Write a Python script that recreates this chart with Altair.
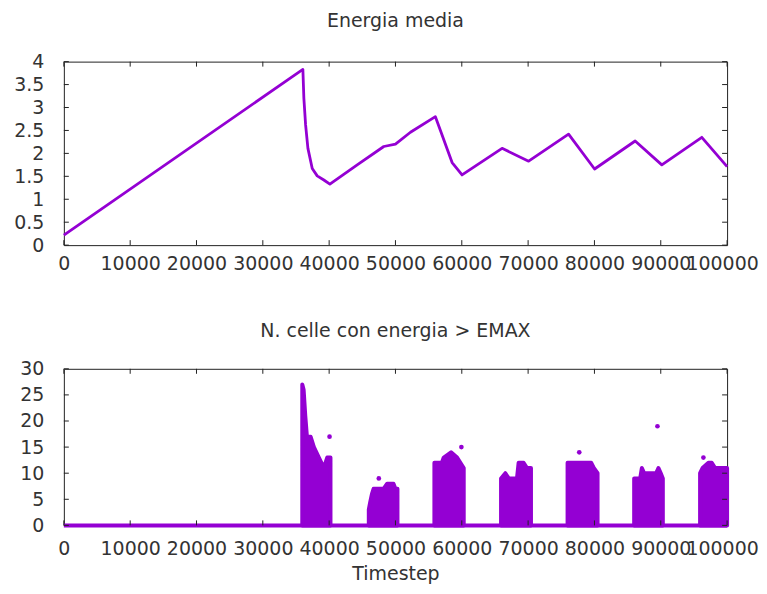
import altair as alt
import pandas as pd

# ---- Top panel: mean energy ----
energy_t = [0, 36040, 36190, 36450, 36800, 37450, 38200, 39200, 40110, 44230, 48240,
            50000, 52260, 56020, 56780, 57780, 58540, 60040, 66070, 70080, 76100,
            80020, 86140, 90160, 96190, 100000]
energy_v = [0.22, 3.83, 3.20, 2.62, 2.11, 1.67, 1.51, 1.42, 1.33, 1.75, 2.15,
            2.20, 2.46, 2.80, 2.50, 2.10, 1.80, 1.53, 2.11, 1.83, 2.42,
            1.66, 2.27, 1.75, 2.35, 1.71]

# ---- Bottom panel: dense clusters (upper envelope of the point cloud) ----
c1_t = [35950, 36150, 36400, 36650, 37200, 37700, 38450, 39200, 39710, 40200]
c1_hi = [27, 26, 21, 17, 17, 15, 13, 11, 13, 13]
c2_t = [45980, 46200, 46450, 46700, 47740, 48200, 48750, 49700, 50000, 50300]
c2_hi = [3, 4.5, 6, 7, 7, 7, 8, 8, 7, 7]
c3_t = [55870, 57000, 57280, 58380, 59290, 59790, 60290]
c3_hi = [12, 12, 13, 14, 13, 12, 11]
c4_t = [65920, 66570, 67070, 68320, 68570, 69320, 69830, 70430]
c4_hi = [9, 10, 9, 9, 12, 12, 11, 11]
c5_t = [75950, 76500, 77500, 78500, 79500, 79900, 80470]
c5_hi = [12, 12, 12, 12, 12, 11, 10]
c6_t = [85990, 86900, 87150, 87500, 89300, 89650, 90000, 90310]
c6_hi = [9, 9, 11, 10, 10, 11, 10, 9]
c7_t = [95930, 96300, 97190, 97690, 98190, 100000]
c7_hi = [10, 11, 12, 12, 11, 11]

outlier_t = [40060, 47490, 59940, 77710, 89500, 96430]
outlier_v = [17, 9, 15, 14, 19, 13]

zero_t = [0, 100000]
zero_v = [0, 0]

x_ticks = [0, 10000, 20000, 30000, 40000, 50000, 60000, 70000, 80000, 90000, 100000]
y1_ticks = [0, 0.5, 1, 1.5, 2, 2.5, 3, 3.5, 4]
y2_ticks = [0, 5, 10, 15, 20, 25, 30]

PURPLE = "#9400d3"
FONT = "DejaVu Sans"
FS = 19
W, H1, H2 = 665, 184, 157
TL = 5

energy_df = pd.DataFrame({"t": energy_t, "v": energy_v})
rows = []
for cid, (ts, hs) in enumerate([(c1_t, c1_hi), (c2_t, c2_hi), (c3_t, c3_hi), (c4_t, c4_hi),
                                (c5_t, c5_hi), (c6_t, c6_hi), (c7_t, c7_hi)]):
    for t, h in zip(ts, hs):
        rows.append({"t": t, "v": h, "lo": 0, "c": cid})
cluster_df = pd.DataFrame(rows)
out_df = pd.DataFrame({"t": outlier_t, "v": outlier_v})
zero_df = pd.DataFrame({"t": zero_t, "v": zero_v})
xt_df = pd.DataFrame({"t": x_ticks})

xscale = alt.Scale(domain=[0, 100000], nice=False, zero=False)
last_label_shift = {"condition": {"test": "datum.value == 100000", "value": -5}, "value": 0}


def xaxis(title=None, label_pad=9):
    kw = dict(values=x_ticks, labelExpr="'' + datum.value", ticks=False, domain=False,
              grid=False, labelOverlap=False, labelFlush=False, labelBound=False,
              labelPadding=label_pad, labelFontSize=FS, labelFont=FONT, labelColor="#333",
              labelOffset=last_label_shift)
    if title:
        return alt.Axis(title=title, titleFontSize=FS, titleFont=FONT, titleFontWeight="normal",
                        titleColor="#333", titlePadding=6, **kw)
    return alt.Axis(title=None, **kw)


def yaxis(vals):
    return alt.Axis(values=vals, labelExpr="'' + datum.value", ticks=False, domain=False,
                    grid=False, labelOverlap=False, labelFlush=False, labelBound=False,
                    labelPadding=20, labelFontSize=FS, labelFont=FONT, labelColor="#333",
                    title=None, minExtent=55)


def make_panel(marks_fn, yvals, ydomain, H, xtitle, label_pad):
    yscale = alt.Scale(domain=ydomain, nice=False, zero=False)
    X = alt.X("t:Q", scale=xscale, axis=xaxis(xtitle, label_pad))
    Y = alt.Y("v:Q", scale=yscale, axis=yaxis(yvals))
    layers = marks_fn(X, Y)
    base_x = alt.Chart(xt_df).mark_rule(color="#222", strokeWidth=1)
    base_y = alt.Chart(pd.DataFrame({"v": yvals})).mark_rule(color="#222", strokeWidth=1)
    layers += [
        base_x.encode(x=X, y=alt.value(H), y2=alt.value(H - TL)),
        base_x.encode(x=X, y=alt.value(0), y2=alt.value(TL)),
        base_y.encode(y=Y, x=alt.value(0), x2=alt.value(TL)),
        base_y.encode(y=Y, x=alt.value(W), x2=alt.value(W - TL)),
    ]
    return alt.layer(*layers)


def top_marks(X, Y):
    return [alt.Chart(energy_df).mark_line(color=PURPLE, strokeWidth=2.8, strokeJoin="round")
            .encode(x=X, y=Y)]


def bottom_marks(X, Y):
    areas = alt.Chart(cluster_df).mark_area(color=PURPLE, stroke=PURPLE, strokeWidth=4,
                                            strokeJoin="round", opacity=1).encode(
        x=X, y=Y, y2="lo:Q", detail="c:N")
    zero_line = alt.Chart(zero_df).mark_line(color=PURPLE, strokeWidth=4).encode(x=X, y=Y)
    outs = alt.Chart(out_df).mark_circle(color=PURPLE, size=22, opacity=1).encode(x=X, y=Y)
    return [areas, zero_line, outs]


top = make_panel(top_marks, y1_ticks, [0, 4], H1, None, 9).properties(
    width=W, height=H1,
    title=alt.TitleParams("Energia media", fontSize=FS, font=FONT, fontWeight="normal",
                          color="#333", offset=22),
)
bottom = make_panel(bottom_marks, y2_ticks, [0, 30], H2, "Timestep", 14).properties(
    width=W, height=H2,
    title=alt.TitleParams("N. celle con energia > EMAX", fontSize=FS, font=FONT,
                          fontWeight="normal", color="#333", offset=19),
)

chart = alt.vconcat(top, bottom, spacing=47).properties(
    padding={"left": 0, "top": 2, "right": 0, "bottom": 0}
).configure_view(
    stroke="#222", strokeWidth=1
)

chart.save("out.html", embed_options={"renderer": "svg", "actions": False})
